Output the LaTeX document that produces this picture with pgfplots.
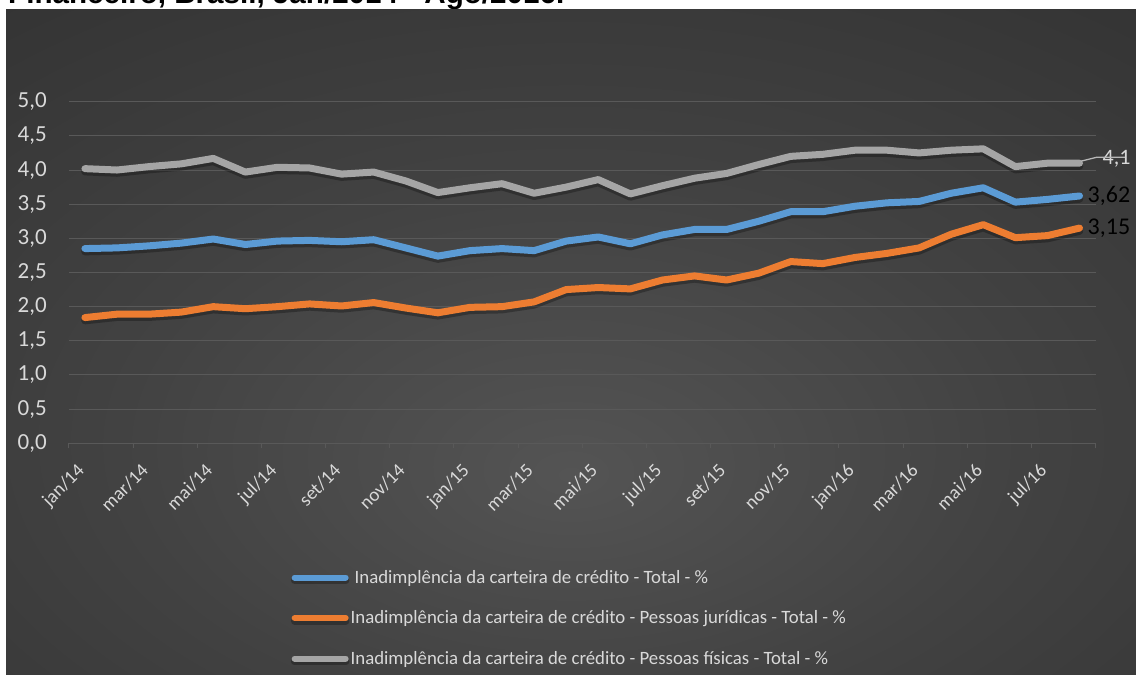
\documentclass[border=0pt]{standalone}
\usepackage{fontspec}
\setmainfont{Carlito}
\newfontfamily\arialfont{Liberation Sans}
\usepackage{pgfplots}
\pgfplotsset{compat=1.18}
\definecolor{cblue}{HTML}{5B9BD5}
\definecolor{corange}{HTML}{ED7D31}
\definecolor{cgray}{HTML}{A5A5A5}
\definecolor{txt}{HTML}{D9D9D9}
\definecolor{gridc}{HTML}{595959}
\definecolor{bgin}{HTML}{545454}
\definecolor{bgmid}{HTML}{424242}
\definecolor{bgout}{HTML}{262626}
\pgfdeclareradialshading{bgshade}{\pgfpoint{0bp}{-10bp}}{color(0bp)=(bgin); color(20bp)=(bgmid); color(60bp)=(bgout); color(90bp)=(bgout)}
\begin{document}
\begin{tikzpicture}[x=1pt,y=1pt]
\clip (0,0) rectangle (1136,675);
\fill[white] (0,0) rectangle (1136,675);
\node[anchor=base west, inner sep=0pt, font=\arialfont\bfseries\fontsize{29.6}{36}\selectfont] at (8,671.3) {Financeiro, Brasil, Jan/2014 - Ago/2016.};
\shade[shading=bgshade] (6,0) rectangle (1136,665);
\begin{axis}[
  at={(68.9pt,231.7pt)}, anchor=south west,
  scale only axis, width=1026.7pt, height=341.6pt,
  xmin=-0.5, xmax=31.5, ymin=0, ymax=5,
  clip=false,
  axis line style={draw=none},
  ymajorgrids, grid style={gridc, line width=1pt},
  ytick={0,0.5,...,5},
  xtick={0,2,...,30},
  xticklabels={jan/14,mar/14,mai/14,jul/14,set/14,nov/14,jan/15,mar/15,mai/15,jul/15,set/15,nov/15,jan/16,mar/16,mai/16,jul/16},
  minor xtick={-0.5,1.5,...,31.5},
  major tick length=0pt, minor tick length=5pt,
  tick align=outside, xtick pos=bottom, ytick pos=left,
  minor tick style={gridc, line width=1pt},
  /pgf/number format/assume math mode=true,
  yticklabel style={/pgf/number format/fixed, /pgf/number format/fixed zerofill, /pgf/number format/precision=1, /pgf/number format/use comma, text=txt, font=\fontsize{23}{27}\selectfont, anchor=east, inner sep=0pt, xshift=-22pt},
  xticklabel style={rotate=45, anchor=north east, inner sep=0pt, text=txt, font=\fontsize{19}{22}\selectfont, xshift=-20pt, yshift=-7pt},
  every axis plot/.append style={line width=7pt, line cap=round, line join=round, mark=none,
    preaction={draw=black, draw opacity=0.28, line width=7.5pt, transform canvas={yshift=-3pt}}},
  legend style={at={(0.2168,-0.3653)}, anchor=north west, draw=none, fill=none, text=txt,
    font=\fontsize{18.8}{22}\selectfont, row sep=22pt, inner sep=0pt},
  legend cell align=left,
  legend image code/.code={\draw[#1, line width=6pt, line cap=round, preaction={draw=none}] (3pt,0pt) -- (54pt,0pt);},
]
\addplot[cblue] coordinates {
(0,2.85) (1,2.86) (2,2.89) (3,2.93) (4,2.99) (5,2.91) (6,2.96) (7,2.97)
(8,2.95) (9,2.98) (10,2.86) (11,2.74) (12,2.82) (13,2.85) (14,2.82) (15,2.96)
(16,3.02) (17,2.92) (18,3.05) (19,3.13) (20,3.13) (21,3.25) (22,3.39) (23,3.39)
(24,3.47) (25,3.52) (26,3.54) (27,3.66) (28,3.74) (29,3.53) (30,3.57) (31,3.62)};
\addlegendentry{\hspace{4pt}Inadimplência da carteira de crédito - Total - \%}
\addplot[corange] coordinates {
(0,1.84) (1,1.89) (2,1.89) (3,1.92) (4,2.00) (5,1.97) (6,2.00) (7,2.04)
(8,2.01) (9,2.06) (10,1.98) (11,1.91) (12,1.99) (13,2.00) (14,2.07) (15,2.25)
(16,2.28) (17,2.26) (18,2.39) (19,2.45) (20,2.39) (21,2.49) (22,2.66) (23,2.63)
(24,2.72) (25,2.78) (26,2.86) (27,3.06) (28,3.20) (29,3.01) (30,3.04) (31,3.15)};
\addlegendentry{Inadimplência da carteira de crédito - Pessoas jurídicas - Total - \%}
\addplot[cgray] coordinates {
(0,4.02) (1,4.00) (2,4.05) (3,4.09) (4,4.17) (5,3.97) (6,4.04) (7,4.03)
(8,3.94) (9,3.97) (10,3.84) (11,3.67) (12,3.74) (13,3.80) (14,3.66) (15,3.75)
(16,3.86) (17,3.65) (18,3.77) (19,3.88) (20,3.95) (21,4.08) (22,4.20) (23,4.23)
(24,4.29) (25,4.29) (26,4.25) (27,4.29) (28,4.31) (29,4.05) (30,4.10) (31,4.10)};
\addlegendentry{Inadimplência da carteira de crédito - Pessoas físicas - Total - \%}
\node[anchor=west, inner sep=0pt, font=\fontsize{24}{28}\selectfont, text=black, xshift=8pt] at (axis cs:31,3.62) {3,62};
\node[anchor=west, inner sep=0pt, font=\fontsize{24}{28}\selectfont, text=black, xshift=8pt] at (axis cs:31,3.15) {3,15};
\node[anchor=west, inner sep=0pt, font=\fontsize{22}{26}\selectfont, text=txt, xshift=23pt, yshift=4pt] at (axis cs:31,4.10) {4,1};
\draw[cgray!80!white, line width=1.3pt] (axis cs:31,4.10) ++(1.5pt,2pt) -- ++(0,4pt) -- ++(12pt,0);
\end{axis}
\end{tikzpicture}
\end{document}
